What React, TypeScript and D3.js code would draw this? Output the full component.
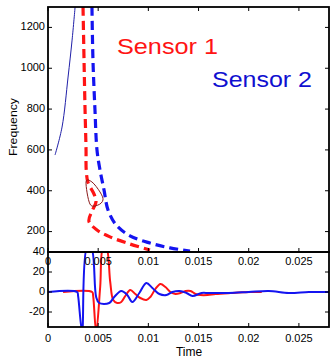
import React from 'react';
import * as d3 from 'd3';

// shared time ticks
const timeTicks = [0, 0.005, 0.01, 0.015, 0.02, 0.025];
const freqTicks = [200, 400, 600, 800, 1000, 1200];
const ampTicks = [-20, 0, 20, 40];

// upper panel, frequency tracks (dashed)
const s1FreqTime = [0.00349, 0.00359, 0.00369, 0.00379, 0.00381, 0.00399, 0.00462, 0.00478, 0.00438, 0.00408, 0.00488, 0.00618, 0.00817, 0.01016];
const s1Freq = [1300, 1040, 800, 600, 500, 440, 380, 345, 300, 250, 208, 174, 139, 110];
const s2FreqTime = [0.00438, 0.00448, 0.00468, 0.00488, 0.00518, 0.00558, 0.00598, 0.00678, 0.00817, 0.01016, 0.01216, 0.01415];
const s2Freq = [1300, 1040, 796, 600, 502, 404, 306, 233, 179, 144, 120, 105];
// thin reference line
const refTime = [0.0007, 0.0014, 0.002, 0.0024, 0.0027];
const refFreq = [575, 712, 957, 1138, 1300];
// hand drawn loop around the crossing
const loopTime = [0.00379, 0.00438, 0.00518, 0.00548, 0.00498, 0.00418, 0.00379];
const loopFreq = [443, 443, 394, 355, 330, 335, 365];

// lower panel, signals
const s1SigTime = [0.0015, 0.0044, 0.0045, 0.0048, 0.0052, 0.0055, 0.0058, 0.0062, 0.0065, 0.0069, 0.0073, 0.0077, 0.0082, 0.0087, 0.0092, 0.0098, 0.0102, 0.0107, 0.0112, 0.0117, 0.0122, 0.0127, 0.0132, 0.0137, 0.0142, 0.0147, 0.0152, 0.0159, 0.0167, 0.0182, 0.0202, 0.0213];
const s1Sig = [0, 0, -4, -40, 5, 45, 45, 10, -8, -11, -10, -4, 2, -2, -6, -8, -5, 3, 8, 5, 0, -2, -1, 1, 1, -2, -3, -3, -2, -1, 0, 0];
const s2SigTime = [0, 0.0029, 0.003, 0.0034, 0.0039, 0.0043, 0.0048, 0.0051, 0.0061, 0.0066, 0.0073, 0.0079, 0.0084, 0.0091, 0.0098, 0.0104, 0.0111, 0.0118, 0.0124, 0.0131, 0.0138, 0.0144, 0.0153, 0.016, 0.018, 0.02, 0.022, 0.024, 0.026, 0.028];
const s2Sig = [0, 0, -4, -40, 45, 45, -5, -11, -11, -5, 1, -3, -10, -1, 9, 4, -2, -3, 0, 1, -1, -4, -1, -1, -1, 0, 1, -1, 0, 0];

const RED = '#ff1414';
const BLUE = '#1414f0';
const FONT = '"Liberation Sans", Arial, sans-serif';

const L = 48, R = 329, T1 = 7, B1 = 252, T2 = 252, B2 = 327;

const fmt = (t: number) => String(+t.toFixed(3));

const App: React.FC = () => {
  const x = d3.scaleLinear().domain([0, 0.028]).range([L, R]);
  const yF = d3.scaleLinear().domain([100, 1300]).range([B1, T1]);
  const yA = d3.scaleLinear().domain([-35, 40]).range([B2, T2]);

  const lineF = (ts: number[], vs: number[]) =>
    d3.line<number>().x((_, i) => x(ts[i])).y((v) => yF(v)).curve(d3.curveCatmullRom)(vs) || '';
  const lineA = (ts: number[], vs: number[]) =>
    d3.line<number>().x((_, i) => x(ts[i])).y((v) => yA(v)).curve(d3.curveCatmullRom.alpha(0.5))(vs) || '';
  const loop =
    d3.line<number>().x((_, i) => x(loopTime[i])).y((v) => yF(v)).curve(d3.curveCardinalClosed)(loopFreq.slice(0, -1)) || '';

  const tickStyle = { fontFamily: FONT, fontSize: 11, fill: '#000' };

  return (
    <svg width={331} height={361} style={{ position: 'absolute', left: 0, top: 0, background: '#fff' }}>
      <defs>
        <clipPath id="c1"><rect x={L} y={T1} width={R - L} height={B1 - T1} /></clipPath>
        <clipPath id="c2"><rect x={L} y={T2} width={R - L} height={B2 - T2} /></clipPath>
      </defs>
      <rect width={331} height={361} fill="#fff" />

      {/* upper panel */}
      <g clipPath="url(#c1)" fill="none">
        <path d={lineF(refTime, refFreq)} stroke="#2020a8" strokeWidth={1} />
        <path d={lineF(s2FreqTime, s2Freq)} stroke={BLUE} strokeWidth={3.2} strokeDasharray="9 5" />
        <path d={lineF(s1FreqTime, s1Freq)} stroke={RED} strokeWidth={3.2} strokeDasharray="9 5" />
        <path d={loop} stroke="#8b1a1a" strokeWidth={1} />
      </g>

      {/* lower panel */}
      <g clipPath="url(#c2)" fill="none">
        <path d={lineA(s1SigTime, s1Sig)} stroke={RED} strokeWidth={2} />
        <path d={lineA(s2SigTime, s2Sig)} stroke={BLUE} strokeWidth={2} />
      </g>

      {/* boxes */}
      <rect x={L} y={T1} width={R - L} height={B1 - T1} fill="none" stroke="#000" strokeWidth={1.8} />
      <rect x={L} y={T2} width={R - L} height={B2 - T2} fill="none" stroke="#000" strokeWidth={1.8} />

      {/* time ticks */}
      {timeTicks.map((t) => (
        <g key={'t' + t} stroke="#000" strokeWidth={1}>
          <line x1={x(t)} x2={x(t)} y1={T1} y2={T1 + 4} />
          <line x1={x(t)} x2={x(t)} y1={B1} y2={B1 - 4} />
          <line x1={x(t)} x2={x(t)} y1={B2} y2={B2 - 4} />
        </g>
      ))}
      {timeTicks.map((t) => (
        <text key={'tl1' + t} x={x(t)} y={B1 + 10} textAnchor="middle" dominantBaseline="middle" style={tickStyle}>
          {fmt(t)}
        </text>
      ))}
      {timeTicks.map((t) => (
        <text key={'tl2' + t} x={x(t)} y={B2 + 12} textAnchor="middle" dominantBaseline="middle" style={tickStyle}>
          {fmt(t)}
        </text>
      ))}

      {/* frequency ticks */}
      {freqTicks.map((f) => (
        <g key={'f' + f}>
          <line x1={L} x2={L + 4} y1={yF(f)} y2={yF(f)} stroke="#000" />
          <line x1={R} x2={R - 4} y1={yF(f)} y2={yF(f)} stroke="#000" />
          <text x={L - 3} y={yF(f)} textAnchor="end" dominantBaseline="middle" style={tickStyle}>{f}</text>
        </g>
      ))}

      {/* amplitude ticks */}
      {ampTicks.map((a) => (
        <g key={'a' + a}>
          <line x1={L} x2={L + 4} y1={yA(a)} y2={yA(a)} stroke="#000" />
          <line x1={R} x2={R - 4} y1={yA(a)} y2={yA(a)} stroke="#000" />
          <text x={L - 3} y={yA(a)} textAnchor="end" dominantBaseline="middle" style={tickStyle}>{a}</text>
        </g>
      ))}

      <text x={14} y={127} transform="rotate(-90 14 127)" textAnchor="middle" dominantBaseline="middle"
        style={{ fontFamily: FONT, fontSize: 10, fill: '#000' }} textLength={58} lengthAdjust="spacingAndGlyphs">
        Frequency
      </text>
      <text x={189} y={353} textAnchor="middle" dominantBaseline="middle" style={{ fontFamily: FONT, fontSize: 12, fill: '#000' }}>
        Time
      </text>

      <text x={117} y={54} style={{ fontFamily: FONT, fontSize: 22, fill: RED }} textLength={101} lengthAdjust="spacingAndGlyphs">
        Sensor 1
      </text>
      <text x={212} y={87} style={{ fontFamily: FONT, fontSize: 22, fill: '#1010d0' }} textLength={100} lengthAdjust="spacingAndGlyphs">
        Sensor 2
      </text>
    </svg>
  );
};

export default App;
